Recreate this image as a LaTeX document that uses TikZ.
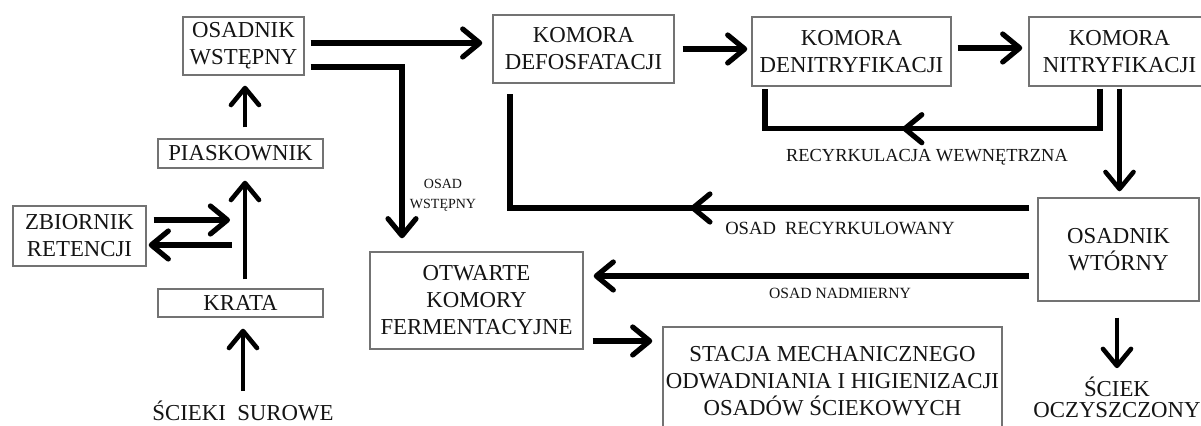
\documentclass[tikz,border=0pt]{standalone}
\usepackage{fontspec}
\setmainfont{Liberation Serif}
\usetikzlibrary{arrows.meta,decorations.markings,calc}
\newcommand\bigf{\fontsize{11.4}{13.5}\selectfont}
\begin{document}
\begin{tikzpicture}[x=0.5pt,y=-0.5pt,
  box/.style={draw=black!55, line width=0.7pt, rectangle, align=center, inner sep=0pt, font=\bigf, text=black!92},
  lbl/.style={align=center, inner sep=0pt, text=black!92},
  flow/.style={line width=2.6pt, -{Straight Barb[round,length=8.5pt,width=14pt]}},
  vflow/.style={line width=2.3pt, -{Straight Barb[round,length=8.5pt,width=14pt]}},
  plain/.style={line width=2.6pt},
  midarr/.style={postaction={decorate}, decoration={markings, mark=at position #1 with {\arrow{Straight Barb[round,length=8.5pt,width=14pt]}}}}
]
\fill[white] (0,0) rectangle (1201,426);
\useasboundingbox (0,0) rectangle (1201,426);

% boxes
\node[box, minimum width=60.5pt, minimum height=29pt] (osw) at (243.5,46) {OSADNIK\\WSTĘPNY};
\node[box, minimum width=82.5pt, minimum height=14.5pt] (pias) at (240.5,153.5) {PIASKOWNIK};
\node[box, minimum width=66.5pt, minimum height=30pt] (zbior) at (79.5,236) {ZBIORNIK\\RETENCJI};
\node[box, minimum width=82.5pt, minimum height=14pt] (krata) at (240.5,303) {KRATA};
\node[box, minimum width=90.5pt, minimum height=34pt] (defos) at (583.5,49) {KOMORA\\DEFOSFATACJI};
\node[box, minimum width=99.5pt, minimum height=34.5pt] (denit) at (851.5,51.5) {KOMORA\\DENITRYFIKACJI};
\node[box, minimum width=90.5pt, minimum height=34.5pt] (nitr) at (1119.5,51.5) {KOMORA\\NITRYFIKACJI};
\node[box, minimum width=80.5pt, minimum height=51.5pt] (wtor) at (1118.5,249.5) {OSADNIK\\WTÓRNY};
\node[box, minimum width=106.5pt, minimum height=48.5pt] (otw) at (476.5,300.5) {OTWARTE\\KOMORY\\FERMENTACYJNE};
\node[box, minimum width=169.5pt, minimum height=54pt] (stacja) at (832.5,381) {STACJA MECHANICZNEGO\\ODWADNIANIA I HIGIENIZACJI\\OSADÓW ŚCIEKOWYCH};

% free texts
\node[lbl, font=\bigf, anchor=base] (scieki) at (243,421) {ŚCIEKI\ \ SUROWE};
\node[lbl, font=\bigf] (sciek) at (1117,397) {ŚCIEK\\[-3pt]OCZYSZCZONY};
\node[lbl, font=\fontsize{7}{10}\selectfont] (lws) at (443,195) {OSAD\\WSTĘPNY};
\node[lbl, font=\fontsize{9.2}{11}\selectfont] (lrw) at (927,157) {RECYRKULACJA WEWNĘTRZNA};
\node[lbl, font=\fontsize{9.3}{11}\selectfont] (lrec) at (840,228) {OSAD\ \ RECYRKULOWANY};
\node[lbl, font=\fontsize{7.8}{10}\selectfont] (lnad) at (840,293) {OSAD NADMIERNY};

% junction coordinates on the vertical line
\coordinate (j1) at (230,220);
\coordinate (j2) at (232,245);

% connectors
\draw[vflow, shorten <=5pt, shorten >=5.5pt] (scieki.north) -- (scieki.north |- krata.south);
\draw[vflow, shorten <=4.5pt, shorten >=6pt] ([xshift=2.25pt]krata.north) -- ([xshift=2.25pt]pias.south);
\draw[flow, shorten <=3.5pt] ([yshift=8pt]zbior.east) -- (j1);
\draw[flow, shorten >=1pt] (j2) -- (j2 -| zbior.east);
\draw[vflow, shorten <=5.5pt, shorten >=5pt] ([xshift=2.25pt]pias.north) -- ([xshift=2.25pt]pias.north |- osw.south);
\draw[flow, shorten <=3pt, shorten >=5pt] ([yshift=1.5pt]osw.east) -- ([yshift=1.5pt]osw.east -| defos.west);
\draw[flow, shorten <=3pt, shorten >=6.5pt] ([yshift=-10.5pt]osw.east) -| ([xshift=-37.25pt]otw.north);
\draw[flow, shorten <=4pt, shorten >=2pt] (defos.east) -- (defos.east -| denit.west);
\draw[flow, shorten <=3pt, shorten >=3pt] ([yshift=1.75pt]denit.east) -- ([yshift=1.75pt]denit.east -| nitr.west);
\draw[plain, midarr=0.573] ([xshift=-9.75pt,yshift=-1pt]nitr.south) -- ++(0,40) -| ([xshift=-43.25pt,yshift=-1pt]denit.south);
\draw[vflow, shorten <=1pt, shorten >=3pt] (nitr.south) -- (nitr.south |- wtor.north);
\draw[plain, midarr=0.535] ([xshift=-4pt,yshift=20.75pt]wtor.west) -| ([xshift=-36.75pt,yshift=-5pt]defos.south);
\draw[flow, shorten <=4pt, shorten >=5pt] ([yshift=-13.25pt]wtor.west) -- ([yshift=-13.25pt]wtor.west -| otw.east);
\draw[flow, shorten <=4.5pt, shorten >=5pt] ([yshift=-20.25pt]otw.east) -- ([yshift=-20.25pt]otw.east -| stacja.west);
\draw[vflow, shorten <=8pt, shorten >=4pt] ([xshift=-0.75pt]wtor.south) -- ([xshift=-0.75pt]wtor.south |- sciek.north);
\end{tikzpicture}
\end{document}
